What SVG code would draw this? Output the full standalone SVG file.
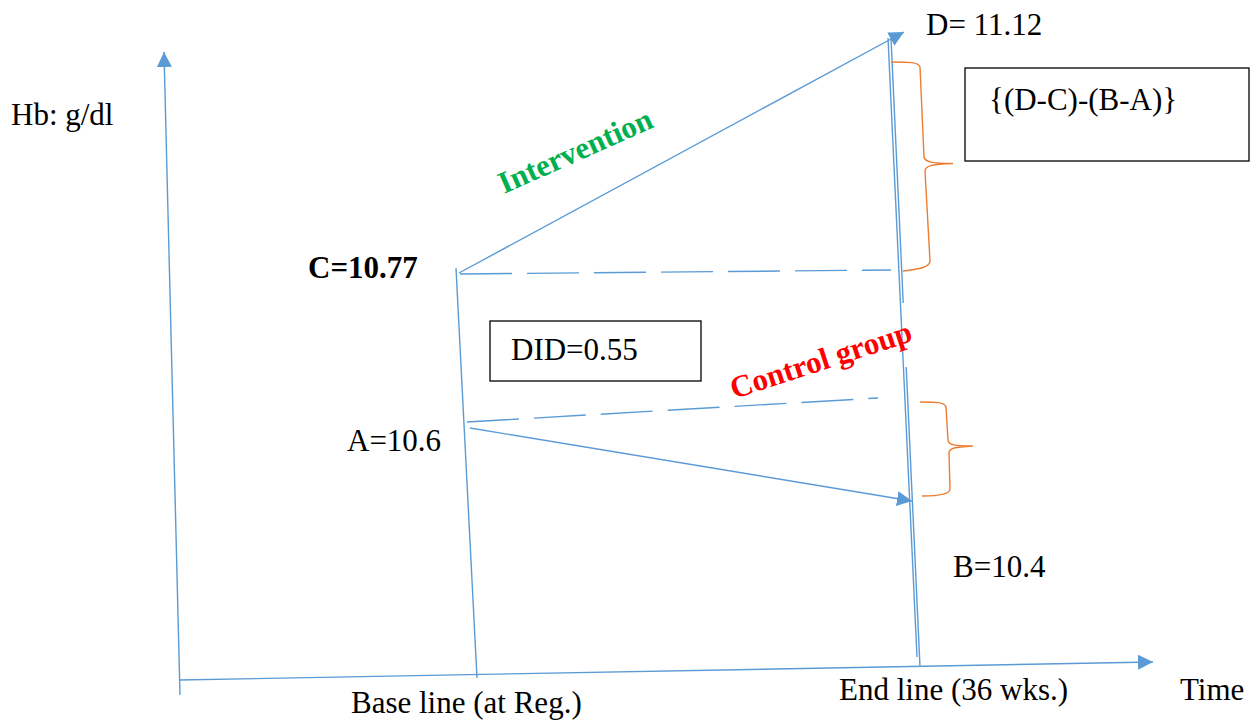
<svg xmlns="http://www.w3.org/2000/svg" width="1260" height="720" viewBox="0 0 1260 720">
<style>
.ln{stroke:#5B9BD5;stroke-width:1.4;fill:none}
.dash{stroke:#5B9BD5;stroke-width:1.4;fill:none;stroke-dasharray:52 15}
.brace{stroke:#ED7D31;stroke-width:1.4;fill:none}
.box{fill:#fff;stroke:#000;stroke-width:1.3}
.t{font-family:"Liberation Serif","Times New Roman",serif;font-size:31px;fill:#000}
.b{font-weight:bold}
</style>
<defs>
<marker id="ah" markerUnits="userSpaceOnUse" markerWidth="16" markerHeight="16" refX="15" refY="7.5" orient="auto">
<path d="M0,0 L15,7.5 L0,15 z" fill="#5B9BD5"/>
</marker>
</defs>
<rect width="1260" height="720" fill="#fff"/>
<g id="connectors">
<line class="ln" x1="180" y1="695" x2="164" y2="52" marker-end="url(#ah)"/>
<line class="ln" x1="179" y1="680" x2="1153" y2="662" marker-end="url(#ah)"/>
<line class="ln" x1="456" y1="268" x2="477" y2="678"/>
<line class="ln" x1="888" y1="38" x2="917" y2="657"/>
<line class="ln" x1="891" y1="38" x2="903.2" y2="303"/>
<line class="ln" x1="906.2" y1="367" x2="920" y2="667"/>
<line class="ln" x1="459" y1="273" x2="904" y2="32" marker-end="url(#ah)"/>
<line class="dash" x1="460" y1="274" x2="891" y2="270"/>
<line class="dash" x1="467" y1="422" x2="878" y2="398"/>
<line class="ln" x1="470" y1="428" x2="912" y2="501" marker-end="url(#ah)"/>
<path class="brace" d="M891,62 C908,62 919,62 920,67 L924,157 C925,162 932,163.5 953,163.5 C932,164 925,166 925,171 L930,261 C930,267 920,269 903,271"/>
<path class="brace" d="M920,402 C935,402 945,402 946,407 L948,440 C948,445 955,446 973,446 C955,447 949,448 949,453 L950,489 C950,494 940,496 922,496"/>
</g>
<g id="axis-labels">
<text class="t" x="11" y="125">Hb: g/dl</text>
<text class="t" x="351" y="713">Base line (at Reg.)</text>
<text class="t" x="839" y="700">End line (36 wks.)</text>
<text class="t" x="1180" y="700">Time</text>
</g>
<g id="point-labels">
<text class="t b" x="308" y="278">C=10.77</text>
<text class="t" x="347" y="451">A=10.6</text>
<text class="t" x="926" y="35">D= 11.12</text>
<text class="t" x="953" y="577">B=10.4</text>
</g>
<g id="did-box">
<rect class="box" x="490" y="321" width="211" height="60"/>
<text class="t" x="511" y="360">DID=0.55</text>
</g>
<g id="formula-box">
<rect class="box" x="965" y="68" width="284" height="93"/>
<text class="t" x="989" y="110">{(D-C)-(B-A)}</text>
</g>
<g id="intervention-label">
<text class="t b" x="504" y="194" style="fill:#00B050" transform="rotate(-24 504 194)">Intervention</text>
</g>
<g id="control-label">
<text class="t b" x="734" y="399" style="fill:#FF0000" transform="rotate(-18 734 399)">Control group</text>
</g>
</svg>
